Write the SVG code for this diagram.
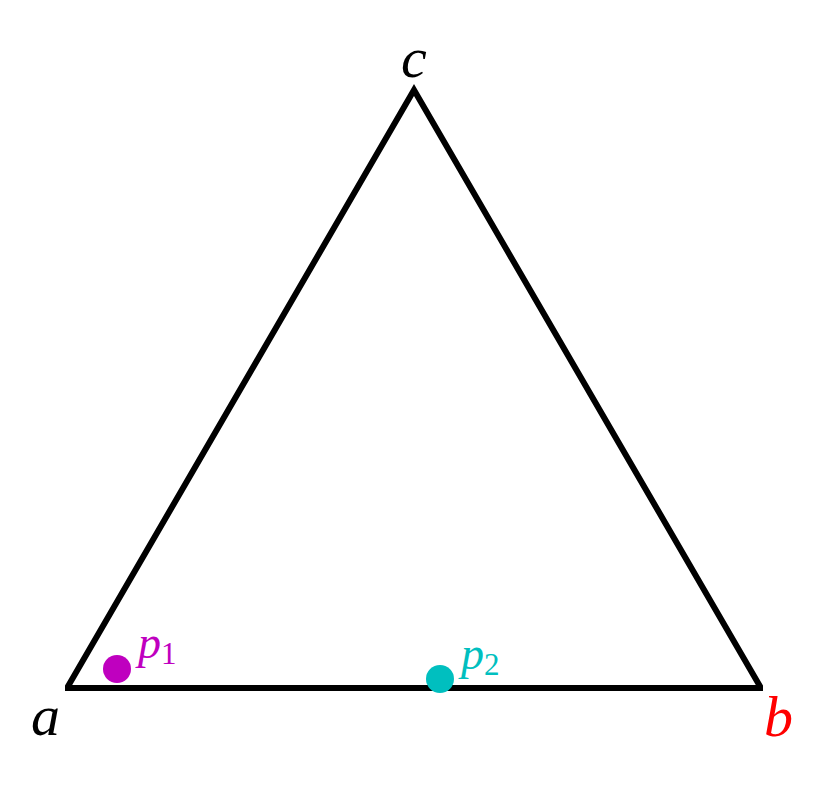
<svg xmlns="http://www.w3.org/2000/svg" width="822" height="789" viewBox="0 0 822 789">
<style>
.lbl{font-family:"Liberation Serif","DejaVu Serif",serif;font-style:italic}
.sub{font-family:"Liberation Serif","DejaVu Serif",serif;font-style:normal}
</style>
<defs>
<clipPath id="clip"><rect x="65" y="0" width="698" height="789"/></clipPath>
</defs>
<rect width="822" height="789" fill="#fff"/>
<g id="connectors">
<path d="M67,688 L761,688 L414,90 Z" fill="none" stroke="#000" stroke-width="6" stroke-linejoin="miter" stroke-miterlimit="10" clip-path="url(#clip)"/>
</g>
<g id="node-a"><text class="lbl" x="31" y="735" font-size="58">a</text></g>
<g id="node-b"><text class="lbl" x="764" y="736" font-size="58" fill="#ff0000">b</text></g>
<g id="node-c"><text class="lbl" x="401" y="77" font-size="58">c</text></g>
<g id="node-p1">
<circle cx="117" cy="669" r="14" fill="#bf00bf"/>
<text x="138" y="658" fill="#bf00bf"><tspan class="lbl" font-size="46">p</tspan><tspan class="sub" font-size="31" dy="6">1</tspan></text>
</g>
<g id="node-p2">
<circle cx="440" cy="679" r="14" fill="#00bfbf"/>
<text x="461" y="669" fill="#00bfbf"><tspan class="lbl" font-size="46">p</tspan><tspan class="sub" font-size="31" dy="6">2</tspan></text>
</g>
</svg>
